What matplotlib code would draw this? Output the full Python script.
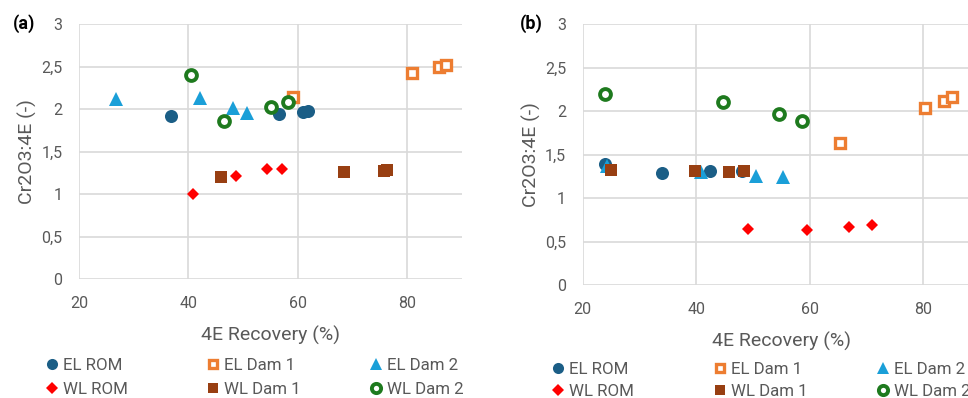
import matplotlib
matplotlib.use("Agg")
import matplotlib.pyplot as plt
from matplotlib.ticker import FuncFormatter, MultipleLocator

plt.rcParams['font.family'] = ['Roboto', 'DejaVu Sans']

series_names = ["EL ROM", "EL Dam 1", "EL Dam 2", "WL ROM", "WL Dam 1", "WL Dam 2"]

# Panel (a)
a_el_rom_x = [36.9, 56.5, 60.9, 61.9]
a_el_rom_y = [1.92, 1.94, 1.97, 1.98]
a_el_dam1_x = [59.1, 81.0, 85.9, 87.1]
a_el_dam1_y = [2.14, 2.42, 2.50, 2.52]
a_el_dam2_x = [26.8, 42.2, 48.2, 50.7]
a_el_dam2_y = [2.12, 2.13, 2.01, 1.95]
a_wl_rom_x = [40.8, 48.8, 54.3, 57.1]
a_wl_rom_y = [1.00, 1.21, 1.30, 1.30]
a_wl_dam1_x = [45.9, 68.4, 75.7, 76.4]
a_wl_dam1_y = [1.20, 1.26, 1.27, 1.28]
a_wl_dam2_x = [40.4, 46.5, 55.1, 58.2]
a_wl_dam2_y = [2.40, 1.86, 2.02, 2.08]

# Panel (b)
b_el_rom_x = [23.9, 34.0, 42.4, 48.0]
b_el_rom_y = [1.39, 1.29, 1.31, 1.31]
b_el_dam1_x = [65.3, 80.3, 83.7, 85.1]
b_el_dam1_y = [1.63, 2.04, 2.12, 2.16]
b_el_dam2_x = [24.3, 40.8, 50.5, 55.3]
b_el_dam2_y = [1.37, 1.30, 1.26, 1.24]
b_wl_rom_x = [49.1, 59.5, 66.9, 70.9]
b_wl_rom_y = [0.65, 0.63, 0.67, 0.69]
b_wl_dam1_x = [24.9, 39.8, 45.8, 48.5]
b_wl_dam1_y = [1.32, 1.31, 1.30, 1.31]
b_wl_dam2_x = [24.0, 44.8, 54.5, 58.6]
b_wl_dam2_y = [2.20, 2.10, 1.97, 1.89]

x_label = "4E Recovery (%)"
y_label = "Cr2O3:4E (-)"
panel_labels = ["(a)", "(b)"]

styles = [
    dict(marker='o', ms=9.4, mfc='#1b5e86', mec='#1b5e86', mew=0),
    dict(marker='s', ms=7.6, mfc='white', mec='#ed7d31', mew=2.4),
    dict(marker='^', ms=9.8, mfc='#1a9fd8', mec='#1a9fd8', mew=0),
    dict(marker='D', ms=6.6, mfc='#ff0000', mec='#ff0000', mew=0),
    dict(marker='s', ms=8.6, mfc='#983f12', mec='#983f12', mew=0),
    dict(marker='o', ms=7.8, mfc='white', mec='#1e7a1e', mew=2.8),
]

panel_a = [(a_el_rom_x, a_el_rom_y), (a_el_dam1_x, a_el_dam1_y), (a_el_dam2_x, a_el_dam2_y),
           (a_wl_rom_x, a_wl_rom_y), (a_wl_dam1_x, a_wl_dam1_y), (a_wl_dam2_x, a_wl_dam2_y)]
panel_b = [(b_el_rom_x, b_el_rom_y), (b_el_dam1_x, b_el_dam1_y), (b_el_dam2_x, b_el_dam2_y),
           (b_wl_rom_x, b_wl_rom_y), (b_wl_dam1_x, b_wl_dam1_y), (b_wl_dam2_x, b_wl_dam2_y)]

W, H = 968, 398
fig = plt.figure(figsize=(W / 100, H / 100), dpi=100)

def fx(px):
    return px / W

def fy(py):
    return 1 - py / H

axes_px = [(79, 24, 461.7, 279.3), (582.7, 24, 980.1, 285.3)]
label_px = [(24, 24), (531, 24)]
legend_cols_px = [[52, 213, 376], [558, 720, 883]]
legend_mid_py = [377.5, 380.5]
legend_spacing = [0.55, 0.45]
tick_gray = '#595959'
fs_leg = 12.2

comma = FuncFormatter(lambda v, p: ('%g' % v).replace('.', ','))

for i, data in enumerate([panel_a, panel_b]):
    l, t, r, b = axes_px[i]
    ax = fig.add_axes([fx(l), fy(b), fx(r) - fx(l), fy(t) - fy(b)])
    ax.set_xlim(20, 90)
    ax.set_ylim(0, 3)
    ax.xaxis.set_major_locator(MultipleLocator(20))
    ax.yaxis.set_major_locator(MultipleLocator(0.5))
    ax.yaxis.set_major_formatter(comma)
    ax.grid(True, color='#d9d9d9', linewidth=1.2)
    ax.set_axisbelow(True)
    for s in ax.spines.values():
        s.set_visible(False)
    ax.tick_params(length=0, labelsize=11.5, labelcolor=tick_gray, pad=12)
    handles = []
    for (xs, ys), st, name in zip(data, styles, series_names):
        h, = ax.plot(xs, ys, linestyle='none', label=name, **st)
        handles.append(h)
    ax.set_xlabel(x_label, fontsize=14, color=tick_gray, labelpad=11)
    ax.set_ylabel(y_label, fontsize=14, color=tick_gray, labelpad=3)
    fig.text(fx(label_px[i][0]), fy(label_px[i][1]), panel_labels[i], fontsize=13,
             fontweight='bold', ha='center', va='center', color='black')
    handle_px = 0.7 * fs_leg * 100 / 72
    for c in range(3):
        hs = [handles[c], handles[c + 3]]
        labs = [series_names[c], series_names[c + 3]]
        leg = fig.legend(hs, labs, loc='center left',
                         bbox_to_anchor=(fx(legend_cols_px[i][c] - handle_px / 2), fy(legend_mid_py[i])),
                         frameon=False, fontsize=fs_leg, markerscale=0.85, handlelength=0.7,
                         handletextpad=0.3, labelspacing=legend_spacing[i], borderpad=0,
                         borderaxespad=0)
        for txt in leg.get_texts():
            txt.set_color(tick_gray)

fig.savefig('out.png', dpi=100)
